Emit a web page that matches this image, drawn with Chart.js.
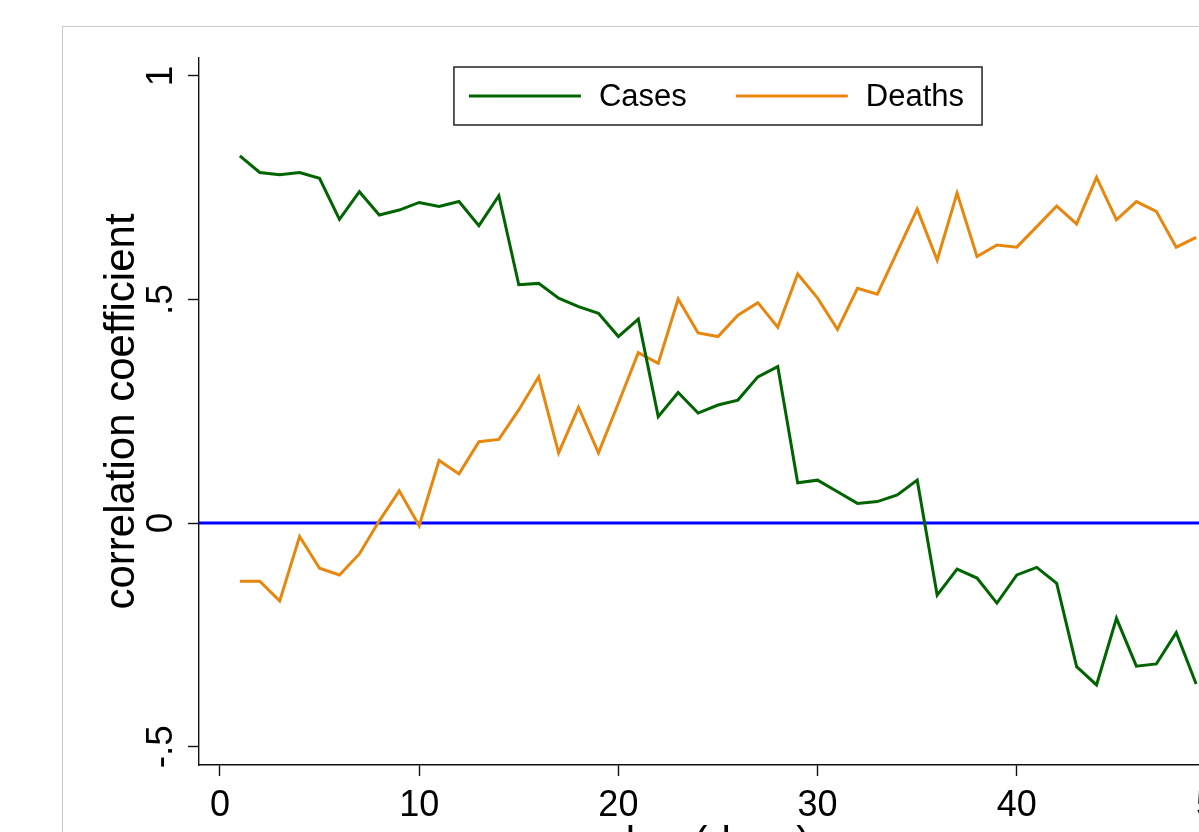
<!doctype html>
<html lang="en">

<head>
    <meta charset="utf-8">
    <title>Correlation coefficient by lag</title>
    <style>
        html, body { margin: 0; padding: 0; background: #fff; overflow: hidden; width: 1199px; height: 832px; }
        #frame { position: absolute; left: 62px; top: 26px; border: 1px solid #c8c8c8; background: #fff; }
        #box { position: relative; width: 1260px; height: 880px; }
    </style>
</head>

<body>
    <div id="frame">
        <div id="box"><canvas id="chart"></canvas></div>
    </div>

    <script src="https://cdn.jsdelivr.net/npm/chart.js"></script>
    <script>
        // lag in days
        const lags = [1, 2, 3, 4, 5, 6, 7, 8, 9, 10, 11, 12, 13, 14, 15, 16, 17, 18, 19, 20,
            21, 22, 23, 24, 25, 26, 27, 28, 29, 30, 31, 32, 33, 34, 35, 36, 37, 38, 39, 40,
            41, 42, 43, 44, 45, 46, 47, 48, 49];
        const cases = [0.821, 0.784, 0.779, 0.784, 0.771, 0.679, 0.741, 0.689, 0.700, 0.717,
            0.708, 0.719, 0.665, 0.732, 0.533, 0.536, 0.503, 0.484, 0.469, 0.417,
            0.456, 0.238, 0.292, 0.246, 0.264, 0.275, 0.327, 0.350, 0.090, 0.096,
            0.070, 0.044, 0.048, 0.063, 0.096, -0.161, -0.103, -0.123, -0.179, -0.116,
            -0.099, -0.135, -0.321, -0.362, -0.213, -0.320, -0.315, -0.245, -0.360];
        const deaths = [-0.130, -0.130, -0.174, -0.030, -0.101, -0.116, -0.069, 0.005, 0.072, -0.006,
            0.140, 0.110, 0.182, 0.187, 0.253, 0.327, 0.157, 0.259, 0.157, 0.268,
            0.381, 0.357, 0.501, 0.425, 0.417, 0.465, 0.493, 0.438, 0.557, 0.503,
            0.433, 0.525, 0.512, 0.607, 0.702, 0.588, 0.738, 0.596, 0.622, 0.617,
            0.663, 0.709, 0.669, 0.773, 0.678, 0.719, 0.697, 0.617, 0.639];
        const xTicks = [0, 10, 20, 30, 40, 50];
        const yTicks = [-0.5, 0, 0.5, 1];
        const yTickLabels = ['-.5', '0', '.5', '1'];
        const refLine = 0;

        const FONT = "'Liberation Sans', Arial, sans-serif";
        const GREEN = '#006400';
        const ORANGE = 'rgb(232,135,14)';

        const pts = vals => vals.map((v, i) => ({ x: lags[i], y: v }));

        // y tick labels rotated (Stata style), blue reference line, legend box inside the plot
        const stataBits = {
            id: 'stataBits',
            beforeDatasetsDraw(chart) {
                const { ctx, chartArea } = chart;
                const y0 = chart.scales.y.getPixelForValue(refLine);
                ctx.save();
                ctx.strokeStyle = '#0000ff';
                ctx.lineWidth = 3;
                ctx.beginPath();
                ctx.moveTo(chartArea.left, y0);
                ctx.lineTo(chartArea.right, y0);
                ctx.stroke();
                ctx.restore();
            },
            afterDraw(chart) {
                const { ctx, chartArea } = chart;
                const ys = chart.scales.y;
                ctx.save();
                ctx.fillStyle = '#000';
                ctx.font = '37px ' + FONT;
                ctx.textAlign = 'center';
                ctx.textBaseline = 'alphabetic';
                yTicks.forEach((v, i) => {
                    ctx.save();
                    ctx.translate(109, ys.getPixelForValue(v));
                    ctx.rotate(-Math.PI / 2);
                    ctx.fillText(yTickLabels[i], 0, 0);
                    ctx.restore();
                });

                // legend
                const ds = chart.data.datasets;
                ctx.font = '31px ' + FONT;
                const lineLen = 112, gapText = 18, gapItem = 49, padL = 15, padR = 18;
                const widths = ds.map(d => ctx.measureText(d.label).width);
                let total = padL + padR + gapItem * (ds.length - 1);
                widths.forEach(w => total += lineLen + gapText + w);
                const bx = (chartArea.left + chartArea.right) / 2 - total / 2;
                const by = chartArea.top + 9;
                const bh = 58;
                ctx.fillStyle = '#fff';
                ctx.fillRect(bx, by, total, bh);
                ctx.strokeStyle = '#222';
                ctx.lineWidth = 1.5;
                ctx.strokeRect(bx, by, total, bh);
                let cx = bx + padL;
                const cy = by + bh / 2;
                ds.forEach((d, i) => {
                    ctx.strokeStyle = d.borderColor;
                    ctx.lineWidth = 3;
                    ctx.beginPath();
                    ctx.moveTo(cx, cy);
                    ctx.lineTo(cx + lineLen, cy);
                    ctx.stroke();
                    cx += lineLen + gapText;
                    ctx.fillStyle = '#000';
                    ctx.textAlign = 'left';
                    ctx.textBaseline = 'middle';
                    ctx.fillText(d.label, cx, cy + 1);
                    cx += widths[i] + gapItem;
                });
                ctx.restore();
            }
        };

        const mychart = new Chart(document.getElementById('chart'), {
            type: 'line',
            data: {
                datasets: [
                    { label: 'Cases', data: pts(cases), borderColor: GREEN, backgroundColor: GREEN, borderWidth: 3, pointRadius: 0, tension: 0 },
                    { label: 'Deaths', data: pts(deaths), borderColor: ORANGE, backgroundColor: ORANGE, borderWidth: 3, pointRadius: 0, tension: 0 }
                ]
            },
            options: {
                responsive: true,
                maintainAspectRatio: false,
                animation: false,
                events: [],
                layout: { padding: { left: 0, top: 31, right: 86, bottom: 0 } },
                plugins: { legend: { display: false }, tooltip: { enabled: false } },
                scales: {
                    x: {
                        type: 'linear',
                        min: -1.05,
                        max: 51.05,
                        afterBuildTicks: s => { s.ticks = xTicks.map(v => ({ value: v })); },
                        afterFit: s => { s.height = 142; },
                        ticks: { color: '#000', font: { family: FONT, size: 36 }, padding: 8, maxRotation: 0, autoSkip: false },
                        grid: { drawOnChartArea: false, drawTicks: true, tickLength: 11, tickColor: '#111', tickWidth: 1.4 },
                        border: { display: true, color: '#111', width: 1.4 },
                        title: { display: true, text: 'lag (days)', color: '#000', font: { family: FONT, size: 42 }, padding: { top: 0, bottom: 37 } }
                    },
                    y: {
                        min: -0.541,
                        max: 1.040,
                        afterBuildTicks: s => { s.ticks = yTicks.map(v => ({ value: v })); },
                        afterFit: s => { s.width = 136; },
                        ticks: { display: false },
                        grid: { drawOnChartArea: false, drawTicks: true, tickLength: 11, tickColor: '#111', tickWidth: 1.4 },
                        border: { display: true, color: '#111', width: 1.4 },
                        title: { display: true, text: 'correlation coefficient', color: '#000', font: { family: FONT, size: 42 }, padding: { top: 34, bottom: 0 } }
                    }
                }
            },
            plugins: [stataBits]
        });
    </script>
</body>

</html>
